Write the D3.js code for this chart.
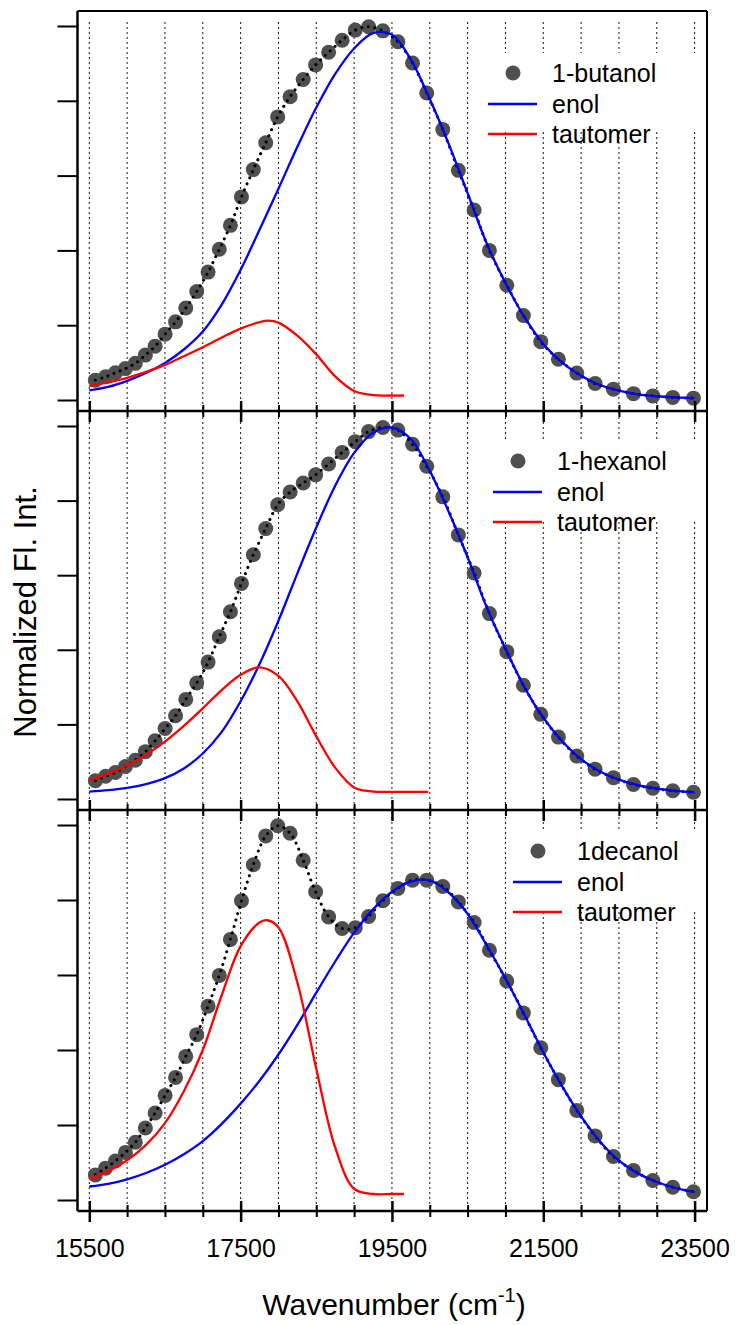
<!DOCTYPE html>
<html>
<head>
<meta charset="utf-8">
<script src="https://cdn.jsdelivr.net/npm/d3@7"></script>
<style>
  body { margin: 0; background: white; }
  text { font-family: 'Liberation Sans', Arial, sans-serif; fill: black; }
</style>
</head>
<body>
<div id="chart"></div>
<script>
// measured points (wavenumber, cm-1)
const dotWn = [15580, 15715, 15845, 15978, 16108, 16241, 16370, 16502, 16640, 16775,
  16920, 17070, 17218, 17365, 17511, 17668, 17832, 17990, 18154, 18327,
  18491, 18663, 18842, 19015, 19192, 19380, 19578, 19772, 19960, 20172,
  20378, 20586, 20788, 21018, 21237, 21467, 21700, 21943, 22185, 22427,
  22692, 22948, 23212, 23485];

const butanolDots = [0.053, 0.062, 0.073, 0.084, 0.098, 0.120, 0.144, 0.176, 0.209, 0.246,
  0.290, 0.342, 0.403, 0.467, 0.543, 0.616, 0.688, 0.757, 0.811, 0.857,
  0.896, 0.930, 0.962, 0.989, 0.998, 0.987, 0.958, 0.901, 0.821, 0.723,
  0.614, 0.508, 0.400, 0.307, 0.226, 0.156, 0.109, 0.072, 0.044, 0.029,
  0.017, 0.011, 0.007, 0.005];

const hexanolDots = [0.049, 0.061, 0.071, 0.087, 0.104, 0.127, 0.156, 0.189, 0.223, 0.267,
  0.311, 0.367, 0.435, 0.502, 0.578, 0.655, 0.725, 0.789, 0.823, 0.847,
  0.869, 0.898, 0.929, 0.958, 0.985, 0.996, 0.989, 0.951, 0.892, 0.810,
  0.708, 0.606, 0.497, 0.395, 0.305, 0.227, 0.166, 0.115, 0.080, 0.057,
  0.039, 0.029, 0.022, 0.018];

const decanolDots = [0.067, 0.085, 0.104, 0.127, 0.154, 0.192, 0.232, 0.279, 0.327, 0.383,
  0.441, 0.517, 0.599, 0.695, 0.798, 0.894, 0.971, 0.998, 0.978, 0.906,
  0.822, 0.755, 0.724, 0.726, 0.756, 0.798, 0.831, 0.853, 0.853, 0.836,
  0.795, 0.740, 0.666, 0.584, 0.499, 0.406, 0.321, 0.239, 0.171, 0.116,
  0.079, 0.052, 0.034, 0.022];

// enol fits
const enolWn = [15500, 15750, 16000, 16250, 16500, 16750, 17000, 17250, 17500, 17750,
  18000, 18250, 18500, 18750, 19000, 19250, 19500, 19750, 20000, 20250,
  20500, 20750, 21000, 21250, 21500, 21750, 22000, 22250, 22500, 22750,
  23000, 23250, 23500];

const butanolEnol = [0.026, 0.035, 0.051, 0.072, 0.099, 0.135, 0.183, 0.255, 0.348, 0.455,
  0.565, 0.677, 0.782, 0.872, 0.940, 0.981, 0.977, 0.910, 0.805, 0.685,
  0.553, 0.420, 0.313, 0.222, 0.150, 0.100, 0.065, 0.040, 0.025, 0.015,
  0.010, 0.007, 0.005];

const hexanolEnol = [0.020, 0.024, 0.030, 0.040, 0.056, 0.082, 0.122, 0.180, 0.262, 0.362,
  0.478, 0.605, 0.728, 0.840, 0.928, 0.982, 0.996, 0.965, 0.880, 0.770,
  0.648, 0.515, 0.403, 0.300, 0.218, 0.155, 0.107, 0.074, 0.052, 0.037,
  0.028, 0.022, 0.018];

const decanolEnol = [0.036, 0.043, 0.055, 0.072, 0.094, 0.122, 0.157, 0.203, 0.257, 0.318,
  0.388, 0.467, 0.553, 0.636, 0.713, 0.775, 0.822, 0.849, 0.852, 0.820,
  0.763, 0.680, 0.591, 0.494, 0.394, 0.303, 0.223, 0.156, 0.105, 0.071,
  0.048, 0.032, 0.021];

// tautomer fits
const butanolTautWn = [15500, 15750, 16000, 16250, 16500, 16750, 17000, 17250, 17500, 17750,
  17860, 18000, 18250, 18500, 18750, 19000, 19250, 19500, 19660];
const butanolTaut = [0.037, 0.047, 0.059, 0.075, 0.094, 0.117, 0.141, 0.167, 0.191, 0.208,
  0.212, 0.207, 0.172, 0.122, 0.063, 0.024, 0.013, 0.012, 0.012];

const hexanolTautWn = [15500, 15750, 16000, 16250, 16500, 16750, 17000, 17250, 17500, 17750,
  18000, 18250, 18500, 18750, 19000, 19250, 19500, 19980];
const hexanolTaut = [0.051, 0.068, 0.090, 0.119, 0.154, 0.196, 0.243, 0.292, 0.333, 0.353,
  0.330, 0.262, 0.168, 0.084, 0.031, 0.020, 0.019, 0.019];

const decanolTautWn = [15500, 15750, 16000, 16250, 16500, 16750, 17000, 17250, 17500, 17750,
  17850, 18000, 18250, 18500, 18750, 19000, 19250, 19500, 19660];
const decanolTaut = [0.056, 0.077, 0.106, 0.147, 0.205, 0.290, 0.400, 0.546, 0.677, 0.740,
  0.746, 0.727, 0.580, 0.350, 0.140, 0.030, 0.016, 0.016, 0.016];

const solvents = ['1-butanol', '1-hexanol', '1decanol'];
const xTickVals = d3.range(15500, 23501, 500);
const xLabelVals = [15500, 17500, 19500, 21500, 23500];
const yTickVals = [0, 0.2, 0.4, 0.6, 0.8, 1];

// layout
let width = 736, height = 1325;
let left = 77.5, right = 707;
let panelTop = [11, 411, 810];
let panelBottom = [411, 810, 1211];

let svg = d3.select('#chart')
  .append('svg')
  .attr('width', width)
  .attr('height', height)
  .style('background', 'white');

let x = d3.scaleLinear()
  .domain([15500, 23500])
  .range([89.3, 694.6]);

const panels = [
  {dots: butanolDots, enol: butanolEnol, tautWn: butanolTautWn, taut: butanolTaut, legX: 488, legY: 73},
  {dots: hexanolDots, enol: hexanolEnol, tautWn: hexanolTautWn, taut: hexanolTaut, legX: 493, legY: 461},
  {dots: decanolDots, enol: decanolEnol, tautWn: decanolTautWn, taut: decanolTaut, legX: 513, legY: 851}
];

// dashed vertical grid
svg.append('g')
  .selectAll('line')
  .data(xTickVals)
  .enter()
  .append('line')
  .attr('x1', d => x(d))
  .attr('x2', d => x(d))
  .attr('y1', 22)
  .attr('y2', panelBottom[2])
  .attr('stroke', '#111')
  .attr('stroke-width', 1)
  .attr('stroke-dasharray', '2,3');

const dotColor = '#4f4f4f';

panels.forEach((p, i) => {
  let y = d3.scaleLinear()
    .domain([0, 1])
    .range([panelBottom[i] - 11, panelTop[i] + 15]);

  // legend background hides the grid
  svg.append('rect')
    .attr('x', p.legX - 5)
    .attr('y', p.legY - 20)
    .attr('width', right - 1 - (p.legX - 5))
    .attr('height', 78)
    .attr('fill', 'white');

  let pts = dotWn.map((w, k) => [w, p.dots[k]]);

  svg.append('g')
    .selectAll('circle')
    .data(pts)
    .enter()
    .append('circle')
    .attr('cx', d => x(d[0]))
    .attr('cy', d => y(d[1]))
    .attr('r', 7.5)
    .attr('fill', dotColor);

  // dotted line through the data
  const fit = d3.line()
    .x(d => x(d[0]))
    .y(d => y(d[1]))
    .curve(d3.curveCatmullRom);

  svg.append('path')
    .datum(pts)
    .attr('d', fit)
    .attr('fill', 'none')
    .attr('stroke', 'black')
    .attr('stroke-width', 3)
    .attr('stroke-linecap', 'round')
    .attr('stroke-dasharray', '0.1,6.5');

  const line = d3.line()
    .x(d => x(d[0]))
    .y(d => y(d[1]))
    .curve(d3.curveCatmullRom.alpha(0.5));

  svg.append('path')
    .datum(enolWn.map((w, k) => [w, p.enol[k]]))
    .attr('d', line)
    .attr('fill', 'none')
    .attr('stroke', '#0000ff')
    .attr('stroke-width', 2.3);

  svg.append('path')
    .datum(p.tautWn.map((w, k) => [w, p.taut[k]]))
    .attr('d', line)
    .attr('fill', 'none')
    .attr('stroke', '#ff0000')
    .attr('stroke-width', 2.3);

  // y ticks, no labels
  let yaxis = svg.append('g')
    .attr('transform', `translate(${left},0)`)
    .call(d3.axisLeft(y).tickValues(yTickVals).tickSize(20).tickFormat(''));
  yaxis.select('.domain').remove();
  yaxis.selectAll('.tick line').attr('stroke', 'black').attr('stroke-width', 2);

  // x ticks crossing each panel's bottom line
  let isLast = i === 2;
  let xaxis = svg.append('g')
    .attr('transform', `translate(0,${panelBottom[i]})`)
    .call(d3.axisBottom(x).tickValues(xTickVals).tickSize(10)
      .tickFormat(d => (isLast && xLabelVals.includes(d)) ? String(d) : ''));
  xaxis.select('.domain').remove();
  xaxis.selectAll('.tick line')
    .attr('stroke', 'black')
    .attr('y1', d => xLabelVals.includes(d) ? -10 : -6)
    .attr('y2', d => xLabelVals.includes(d) ? 11 : 6)
    .attr('stroke-width', d => xLabelVals.includes(d) ? 2.5 : 2);
  xaxis.selectAll('.tick text')
    .attr('y', 28)
    .style('font-size', '25px')
    .style('font-family', "'Liberation Sans', Arial, sans-serif");

  // legend
  let leg = svg.append('g');
  leg.append('circle')
    .attr('cx', p.legX + 25)
    .attr('cy', p.legY)
    .attr('r', 7.5)
    .attr('fill', dotColor);
  leg.append('line')
    .attr('x1', p.legX).attr('x2', p.legX + 49)
    .attr('y1', p.legY + 31).attr('y2', p.legY + 31)
    .attr('stroke', '#0000ff').attr('stroke-width', 2.3);
  leg.append('line')
    .attr('x1', p.legX).attr('x2', p.legX + 49)
    .attr('y1', p.legY + 61).attr('y2', p.legY + 61)
    .attr('stroke', '#ff0000').attr('stroke-width', 2.3);
  [solvents[i], 'enol', 'tautomer'].forEach((t, k) => {
    leg.append('text')
      .attr('x', p.legX + 64)
      .attr('y', p.legY + [0, 31, 61][k] + 8.5)
      .style('font-size', '25px')
      .text(t);
  });
});

// frame and panel dividers
const frame = svg.append('g')
  .attr('stroke', 'black')
  .attr('fill', 'none');
frame.append('line').attr('x1', left).attr('x2', left).attr('y1', panelTop[0]).attr('y2', panelBottom[2]).attr('stroke-width', 2.5);
frame.append('line').attr('x1', right).attr('x2', right).attr('y1', panelTop[0]).attr('y2', panelBottom[2]).attr('stroke-width', 2);
frame.append('line').attr('x1', left).attr('x2', right).attr('y1', panelTop[0]).attr('y2', panelTop[0]).attr('stroke-width', 2);
panelBottom.forEach(b => {
  frame.append('line').attr('x1', left).attr('x2', right).attr('y1', b).attr('y2', b).attr('stroke-width', 2.5);
});

// axis titles
let xt = svg.append('text')
  .attr('x', 394)
  .attr('y', 1315)
  .attr('text-anchor', 'middle')
  .style('font-size', '30px');
xt.append('tspan').text('Wavenumber (cm');
xt.append('tspan').attr('dy', -13).style('font-size', '20px').text('-1');
xt.append('tspan').attr('dy', 13).text(')');

svg.append('text')
  .text('Normalized Fl. Int.')
  .attr('transform', 'translate(36,612) rotate(-90)')
  .attr('text-anchor', 'middle')
  .style('font-size', '31px');
</script>
</body>
</html>
